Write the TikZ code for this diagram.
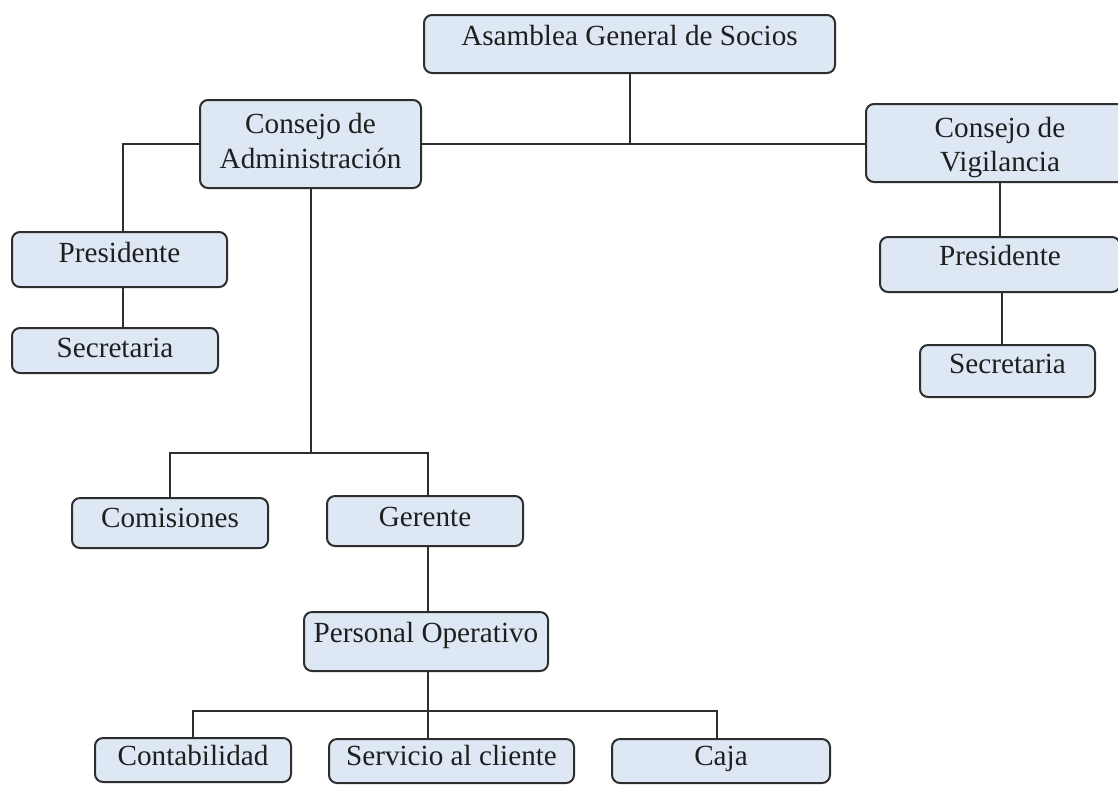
\documentclass[tikz,border=0pt]{standalone}
\usepackage{fontspec}
\setmainfont{Liberation Serif}
\definecolor{boxfill}{HTML}{DEE8F4}
\definecolor{boxline}{HTML}{2E2E2E}
\begin{document}
\begin{tikzpicture}[x=0.5pt,y=-0.5pt,
  box/.style={draw=boxline, fill=boxfill, rounded corners=4pt, line width=1pt, inner sep=0pt},
  lbl/.style={anchor=base, inner sep=0pt, font=\fontsize{14.6}{17.5}\selectfont, text=black!88},
  conn/.style={draw=boxline, line width=1pt}]
\clip (0,0) rectangle (1118,784);
\fill[white] (0,0) rectangle (1118,784);

% connectors (drawn first, boxes on top)
\coordinate (j1) at (310.5,453);
\coordinate (j2) at (428,711);
\coordinate (gdrop) at (428,453);
\coordinate (cdrop) at (717,711);

% boxes
\node[box, minimum width=205.5pt, minimum height=29pt]   (asam)  at (629.5,44)  {};
\node[box, minimum width=110.5pt, minimum height=44pt]   (adm)   at (310.5,144) {};
\node[box, minimum width=134pt,   minimum height=39pt]   (vig)   at (1000,143)  {};
\node[box, minimum width=107.5pt, minimum height=27.5pt] (presL) at (119.5,259.5) {};
\node[box, minimum width=103pt,   minimum height=22.5pt] (secL)  at (115,350.5) {};
\node[box, minimum width=120pt,   minimum height=27.5pt] (presR) at (1000,264.5) {};
\node[box, minimum width=87.5pt,  minimum height=26pt]   (secR)  at (1007.5,371) {};
\node[box, minimum width=98pt,    minimum height=25pt]   (com)   at (170,523) {};
\node[box, minimum width=98pt,    minimum height=25pt]   (ger)   at (425,521) {};
\node[box, minimum width=122pt,   minimum height=29.5pt] (pers)  at (426,641.5) {};
\node[box, minimum width=98pt,    minimum height=22pt]   (cont)  at (193,760) {};
\node[box, minimum width=122.5pt, minimum height=22pt]   (serv)  at (451.5,761) {};
\node[box, minimum width=109pt,   minimum height=22pt]   (caja)  at (721,761) {};

% labels
\node[lbl] (asam-t)  at (629.5,45)  {Asamblea General de Socios};
\node[lbl] (adm-t1)  at (310.5,133) {Consejo de};
\node[lbl] (adm-t2)  at (310.5,168) {Administración};
\node[lbl] (vig-t1)  at (1000,137)  {Consejo de};
\node[lbl] (vig-t2)  at (1000,171)  {Vigilancia};
\node[lbl] (presL-t) at (119.5,262) {Presidente};
\node[lbl] (secL-t)  at (115,357)   {Secretaria};
\node[lbl] (presR-t) at (1000,265)  {Presidente};
\node[lbl] (secR-t)  at (1007.5,373) {Secretaria};
\node[lbl] (com-t)   at (170,527)   {Comisiones};
\node[lbl] (ger-t)   at (425,526)   {Gerente};
\node[lbl] (pers-t)  at (426,642)   {Personal Operativo};
\node[lbl] (cont-t)  at (193,765)   {Contabilidad};
\node[lbl] (serv-t)  at (451.5,765) {Servicio al cliente};
\node[lbl] (caja-t)  at (721,765)   {Caja};

\draw[conn] (asam.south) -- (asam.south |- adm.east);
\draw[conn] (adm.east) -- (adm.east -| vig.west);
\draw[conn] (adm.west) -| ([xshift=1.75pt]presL.north);
\draw[conn] ([xshift=1.75pt]presL.south) -- ([xshift=1.75pt]presL.south |- secL.north);
\draw[conn] (adm.south) -- (j1);
\draw[conn] (com.north) |- (j1) -| (gdrop |- ger.north);
\draw[conn] (gdrop |- ger.south) -- (gdrop |- pers.north);
\draw[conn] (j2 |- pers.south) -- (j2 |- serv.north);
\draw[conn] (cont.north) |- (j2) -| (cdrop |- caja.north);
\draw[conn] (vig.south) -- (vig.south |- presR.north);
\draw[conn] ([xshift=1pt]presR.south) -- ([xshift=1pt]presR.south |- secR.north);
\end{tikzpicture}
\end{document}
